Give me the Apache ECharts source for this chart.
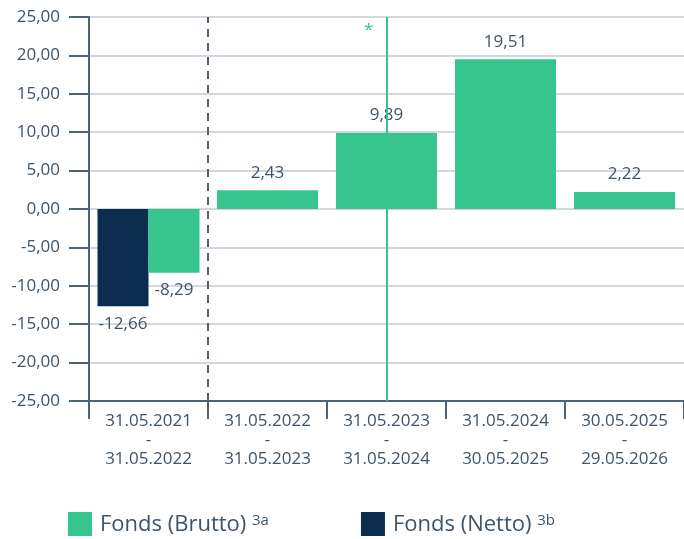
<!DOCTYPE html>
<html><head><meta charset="utf-8">
<script src="https://cdn.jsdelivr.net/npm/echarts@6/dist/echarts.min.js"></script>
<style>html,body{margin:0;padding:0;background:#fff}#c{width:684px;height:539px}</style>
</head><body><div id="c"></div>
<script>
const categories = ['31.05.2021\n-\n31.05.2022','31.05.2022\n-\n31.05.2023','31.05.2023\n-\n31.05.2024','31.05.2024\n-\n30.05.2025','30.05.2025\n-\n29.05.2026'];
const bruttoFirst = [-8.29, null, null, null, null];
const nettoFirst = [-12.66, null, null, null, null];
const bruttoRest = [null, 2.43, 9.89, 19.51, 2.22];
const yTicks = {min: -25, max: 25, interval: 5};
const dashedBoundary = 1;   // boundary after first category
const starCategory = 2.5;   // centre of third category

const GREEN = '#36c48f', NAVY = '#0b2d4f', AXIS = '#4e6275', TEXT = '#3f5468';
const FONT = 'Open Sans';
const fmt = v => v.toFixed(2).replace('.', ',');
const lbl = (pos) => ({show: true, position: pos, distance: 9, color: TEXT, fontFamily: FONT, fontSize: 17,
  formatter: p => p.value == null ? '' : fmt(p.value)});
const posData = arr => arr.map(v => v == null ? null : {value: v, label: lbl(v < 0 ? 'bottom' : 'top')});

const chart = echarts.init(document.getElementById('c'));
chart.setOption({
  animation: false,
  textStyle: {fontFamily: FONT},
  grid: {left: 89, right: -1, top: 17, bottom: 138, containLabel: false},
  xAxis: [
    {type: 'category', data: categories,
     axisLine: {onZero: false, lineStyle: {color: AXIS, width: 2}},
     axisTick: {show: true, length: 18, lineStyle: {color: AXIS, width: 2}},
     axisLabel: {color: TEXT, fontSize: 17, lineHeight: 19, margin: 11, fontFamily: FONT},
     splitLine: {show: false}},
    {type: 'category', data: categories, show: false, axisLine: {onZero: false}},
    {type: 'value', min: 0, max: 5, show: false}
  ],
  yAxis: {type: 'value', min: yTicks.min, max: yTicks.max, interval: yTicks.interval,
    axisLine: {show: true, lineStyle: {color: AXIS, width: 2}},
    axisTick: {show: true, length: 20, lineStyle: {color: AXIS, width: 2}},
    axisLabel: {color: TEXT, fontSize: 17, margin: 29, fontFamily: FONT, formatter: v => fmt(v)},
    splitLine: {show: true, lineStyle: {color: '#d3d8de', width: 2}}},
  legend: {left: 68, bottom: 3, padding: 0, itemWidth: 24, itemHeight: 24, itemGap: 92, icon: 'rect',
    data: ['Fonds (Brutto)', 'Fonds (Netto)'],
    formatter: n => n + ' {sup|' + (n.indexOf('Brutto') >= 0 ? '3a' : '3b') + '}',
    textStyle: {color: TEXT, fontSize: 22, fontFamily: FONT, padding: [2,0,0,3],
      rich: {sup: {fontSize: 15, color: TEXT, fontFamily: FONT, padding: [0,0,9,0]}}}},
  series: [
    {name: 'Fonds (Brutto)', type: 'bar', xAxisIndex: 1, data: posData(bruttoRest), barWidth: 101,
     itemStyle: {color: GREEN}, z: 3},
    {name: 'Fonds (Netto)', type: 'bar', xAxisIndex: 0, data: posData(nettoFirst), barWidth: 51, barGap: '0%',
     itemStyle: {color: NAVY}, z: 3},
    {name: 'Fonds (Brutto)', type: 'bar', xAxisIndex: 0, data: posData(bruttoFirst), barWidth: 51, barGap: '0%',
     itemStyle: {color: GREEN}, z: 3},
    {type: 'line', xAxisIndex: 2, data: [], silent: true,
     markLine: {symbol: 'none', silent: true, animation: false, label: {show: false},
       lineStyle: {width: 2},
       data: [
         {xAxis: dashedBoundary, lineStyle: {color: AXIS, width: 2, type: [8, 6]}},
         {xAxis: starCategory, lineStyle: {color: GREEN, width: 2, type: 'solid'}}
       ]}}
  ],
  graphic: [{type: 'text', left: 364, top: 22, style: {text: '*', fill: GREEN, fontSize: 17, fontFamily: FONT}}]
});
</script></body></html>
